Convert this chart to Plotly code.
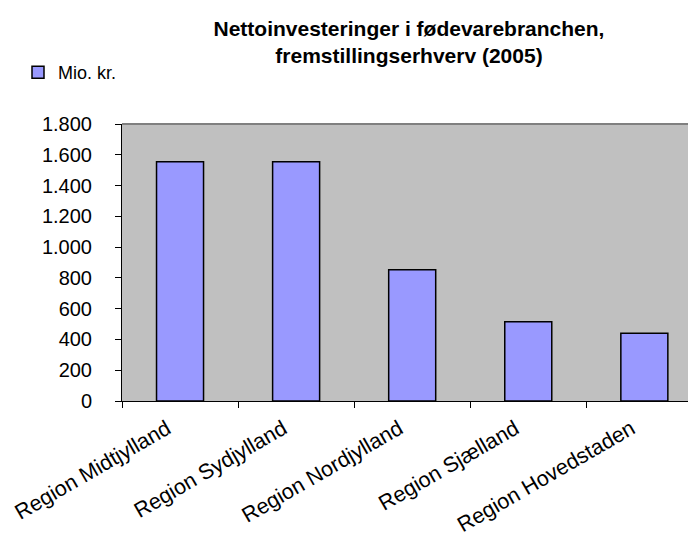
import plotly.graph_objects as go

regions = ["Region Midtjylland", "Region Sydjylland", "Region Nordjylland",
           "Region Sjælland", "Region Hovedstaden"]
values = [1555, 1555, 853, 515, 440]
series_name = "Mio. kr."
title_text = "Nettoinvesteringer i fødevarebranchen,<br>fremstillingserhverv (2005)"

FONT = "Liberation Sans, Arial, sans-serif"
W, H = 688, 530  # page body keeps its 8px default margin

fig = go.Figure()
fig.add_trace(
    go.Bar(
        x=regions,
        y=values,
        name=series_name,
        marker=dict(color="#9999FF", line=dict(color="black", width=1.5)),
        showlegend=True,
    )
)

# gray top border of the plot area
fig.add_shape(
    type="line", xref="paper", yref="paper",
    x0=0, x1=1, y0=1, y1=1,
    line=dict(color="#808080", width=2),
)

fig.update_layout(
    width=W,
    height=H,
    margin=dict(l=102, r=0, t=116, b=137),
    paper_bgcolor="white",
    plot_bgcolor="#C0C0C0",
    separators=",.",
    bargap=0.595,
    font=dict(family=FONT, color="black", size=20),
    title=dict(
        text="<b>" + title_text + "</b>",
        font=dict(family=FONT, size=21, color="black"),
        x=0.5, xref="paper", xanchor="center",
        y=1 - 28 / H, yref="container", yanchor="top",
    ),
    showlegend=True,
    legend=dict(
        xref="container", yref="container",
        x=10 / W, y=1 - 46 / H,
        xanchor="left", yanchor="top",
        font=dict(size=18),
        bgcolor="rgba(0,0,0,0)",
        itemwidth=30,
    ),
)

fig.update_xaxes(
    type="category",
    range=[-0.5, 4.445],
    tickson="boundaries",
    ticks="outside",
    ticklen=6,
    tickcolor="black",
    showline=True,
    linecolor="black",
    linewidth=1,
    showgrid=False,
    tickangle=-30,
    tickfont=dict(size=21.5),
    ticklabelstandoff=6,
    ticklabelshift=-13,
    automargin=False,
    fixedrange=True,
)
fig.update_yaxes(
    range=[0, 1800],
    dtick=200,
    tickformat=",",
    ticks="outside",
    ticklen=6,
    tickcolor="black",
    showline=True,
    linecolor="black",
    linewidth=1,
    showgrid=False,
    zeroline=False,
    tickfont=dict(size=20),
    ticklabelstandoff=19,
    automargin=False,
    fixedrange=True,
)

fig.write_html("out.html")
